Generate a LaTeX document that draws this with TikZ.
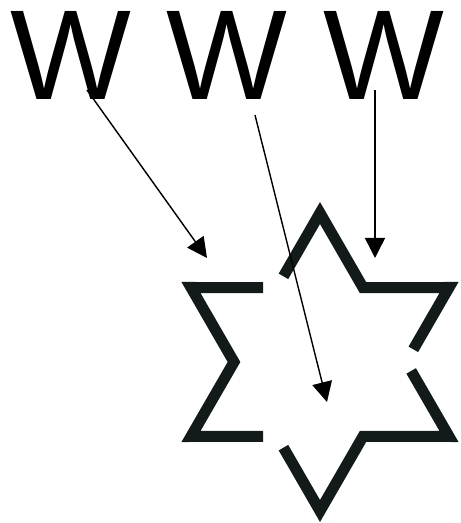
\documentclass[tikz,border=0pt]{standalone}
\usepackage{fontspec}
\setmainfont{Liberation Sans}
\usetikzlibrary{positioning,arrows.meta,calc}
\definecolor{starInk}{HTML}{121A1A}

\begin{document}
\begin{tikzpicture}[
    x=1pt,y=1pt,
    >={Triangle[length=20pt,width=20pt]},
    wlet/.style={font=\fontsize{128}{128}\selectfont,inner sep=0pt,anchor=base},
    piece/.style={draw=starInk,line width=11pt,line join=miter},
    flow/.style={->,line width=1.4pt},
]
\useasboundingbox (0,0) rectangle (461,523);

% =====================================================================
%  the three letters
% =====================================================================
\foreach \x/\n in {70.5/w1,226.5/w2,384/w3}
   \node[wlet] (\n) at (\x,423) {W};

% =====================================================================
%  star: outer points o.., inner corners i..
% =====================================================================
\coordinate (c) at (320,161);
\foreach \a in {30,90,...,330} \coordinate (o\a) at ($(c)+(\a:149)$);
\foreach \a in {0,60,...,300}  \coordinate (i\a) at ($(c)+(\a:86)$);

% each piece is one W, turned
\draw[piece] ($(o150)!0.84!(i120)$) -- (o150) -- (i180) -- (o210)
             -- ($(o210)!0.84!(i240)$);
\draw[piece] ($(i120)!0.15!(o90)$) -- (o90) -- (i60) -- (o30)
             -- ($(o30)!0.83!(i0)$);
\draw[piece] ($(i0)!0.12!(o330)$) -- (o330) -- (i300) -- (o270)
             -- ($(o270)!0.85!(i240)$);

% =====================================================================
%  arrows from the letters into the star
% =====================================================================
\coordinate (s1) at ($(w1.base)+(16.5,10)$);
\coordinate (s2) at ($(w2.base)+(28.5,-15)$);
\coordinate (s3) at ($(w3.base)+(-9,10)$);
\coordinate (t1) at (207,265);
\coordinate (t2) at (327,121);
\coordinate (t3) at (375,265);

\foreach \k in {1,2,3} \draw[flow] (s\k) -- (t\k);

\end{tikzpicture}
\end{document}
